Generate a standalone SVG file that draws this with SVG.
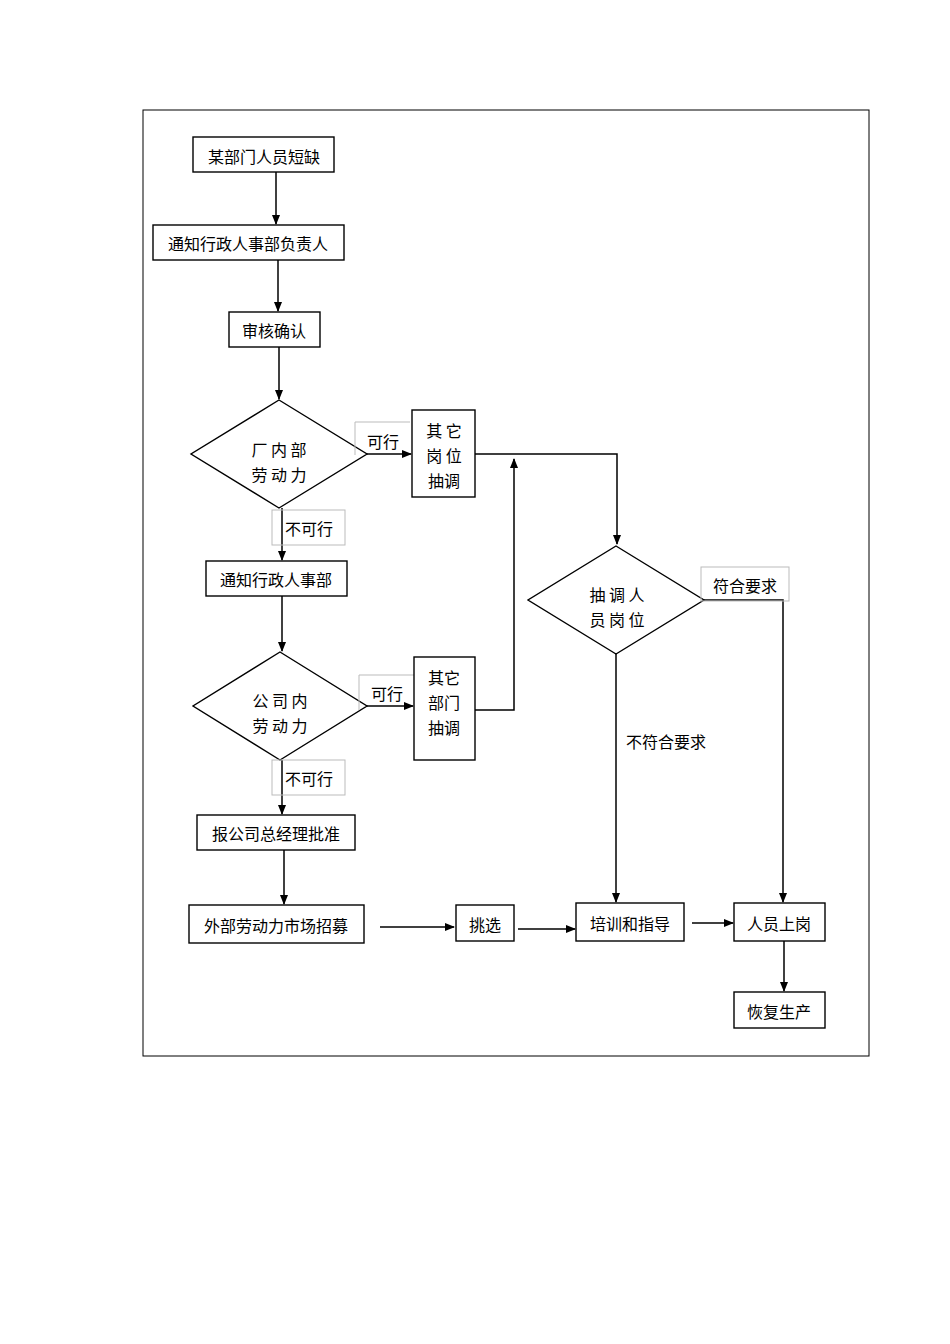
<svg xmlns="http://www.w3.org/2000/svg" width="950" height="1344" viewBox="0 0 950 1344">
<style>
.b{fill:#fff;stroke:#000;stroke-width:1.4}
.l{fill:none;stroke:#bbb;stroke-width:1}
.c{fill:none;stroke:#000;stroke-width:1.5}
text{font-family:"Noto Sans CJK SC","Liberation Sans",sans-serif;font-size:16px;fill:#000;text-anchor:middle;dominant-baseline:central}
</style>
<defs><marker id="a" markerWidth="10" markerHeight="8" refX="9" refY="4" orient="auto" markerUnits="userSpaceOnUse"><path d="M0,0L10,4L0,8Z"/></marker></defs>
<rect x="143" y="110" width="726" height="946" fill="#fff" stroke="#000" stroke-width="1"/>
<g id="connectors">
<line class="c" x1="276" y1="172" x2="276" y2="224" marker-end="url(#a)"/>
<line class="c" x1="278" y1="260" x2="278" y2="311" marker-end="url(#a)"/>
<line class="c" x1="279" y1="347" x2="279" y2="399" marker-end="url(#a)"/>
<line class="c" x1="367" y1="454" x2="411" y2="454" marker-end="url(#a)"/>
<polyline class="c" points="475,454 617,454 617,544" marker-end="url(#a)"/>
<polyline class="c" points="475,710 514,710 514,459" marker-end="url(#a)"/>
<line class="c" x1="282" y1="508" x2="282" y2="560" marker-end="url(#a)"/>
<line class="c" x1="282" y1="596" x2="282" y2="651" marker-end="url(#a)"/>
<line class="c" x1="367" y1="706" x2="413" y2="706" marker-end="url(#a)"/>
<line class="c" x1="282" y1="760" x2="282" y2="814" marker-end="url(#a)"/>
<line class="c" x1="284" y1="850" x2="284" y2="904" marker-end="url(#a)"/>
<line class="c" x1="380" y1="927" x2="454" y2="927" marker-end="url(#a)"/>
<line class="c" x1="518" y1="929" x2="575" y2="929" marker-end="url(#a)"/>
<line class="c" x1="692" y1="923" x2="733" y2="923" marker-end="url(#a)"/>
<line class="c" x1="784" y1="941" x2="784" y2="991" marker-end="url(#a)"/>
<polyline class="c" points="704,600 783,600 783,902" marker-end="url(#a)"/>
<line class="c" x1="616" y1="654" x2="616" y2="902" marker-end="url(#a)"/>
</g>
<g id="n1"><rect class="b" x="193" y="137" width="141" height="35"/><text x="264" y="156">某部门人员短缺</text></g>
<g id="n2"><rect class="b" x="153" y="225" width="191" height="35"/><text x="248" y="243">通知行政人事部负责人</text></g>
<g id="n3"><rect class="b" x="229" y="312" width="91" height="35"/><text x="274" y="330">审核确认</text></g>
<g id="d1"><polygon class="b" points="279,400 367,454 279,508 191,454"/><text x="279" y="449">厂 内 部</text><text x="279" y="474">劳 动 力</text></g>
<g id="l1"><path class="l" d="M355,455V422H410"/><text x="383" y="441">可行</text></g>
<g id="n4"><rect class="b" x="412" y="410" width="63" height="87"/><text x="444" y="430">其 它</text><text x="444" y="455">岗 位</text><text x="444" y="480">抽调</text></g>
<g id="l2"><rect class="l" x="272" y="510" width="73" height="35"/><text x="309" y="528">不可行</text></g>
<g id="n6"><rect class="b" x="206" y="561" width="141" height="35"/><text x="276" y="579">通知行政人事部</text></g>
<g id="d2"><polygon class="b" points="280,652 367,706 280,760 193,706"/><text x="280" y="700">公 司 内</text><text x="280" y="725">劳 动 力</text></g>
<g id="l3"><path class="l" d="M359,710V675H414"/><text x="387" y="693">可行</text></g>
<g id="n5"><rect class="b" x="414" y="657" width="61" height="103"/><text x="444" y="677">其它</text><text x="444" y="702">部门</text><text x="444" y="727">抽调</text></g>
<g id="l4"><rect class="l" x="272" y="760" width="73" height="35"/><text x="309" y="778">不可行</text></g>
<g id="n7"><rect class="b" x="197" y="815" width="158" height="35"/><text x="276" y="833">报公司总经理批准</text></g>
<g id="n8"><rect class="b" x="189" y="905" width="175" height="38"/><text x="276" y="925">外部劳动力市场招募</text></g>
<g id="n9"><rect class="b" x="456" y="905" width="58" height="36"/><text x="485" y="924">挑选</text></g>
<g id="n10"><rect class="b" x="576" y="903" width="108" height="38"/><text x="630" y="923">培训和指导</text></g>
<g id="n11"><rect class="b" x="734" y="903" width="91" height="38"/><text x="779" y="923">人员上岗</text></g>
<g id="n12"><rect class="b" x="734" y="992" width="91" height="36"/><text x="779" y="1011">恢复生产</text></g>
<g id="d3"><polygon class="b" points="616,546 704,600 616,654 528,600"/><text x="617" y="594">抽 调 人</text><text x="617" y="619">员 岗 位</text></g>
<g id="l5"><rect class="l" x="701" y="567" width="88" height="34"/><text x="745" y="585">符合要求</text></g>
<g id="l6"><text x="666" y="741">不符合要求</text></g>
</svg>
